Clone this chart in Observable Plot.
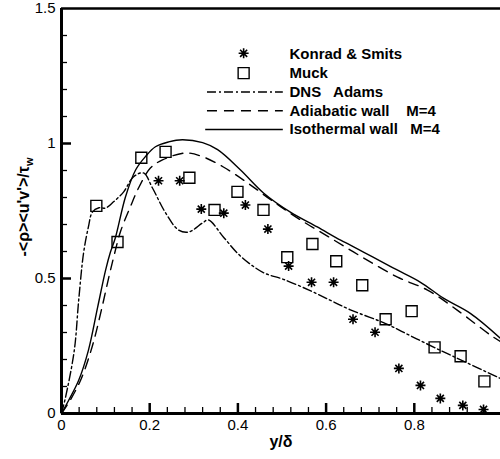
<!DOCTYPE html>
<html>
<head>
<meta charset="utf-8">
<script src="https://cdn.jsdelivr.net/npm/d3@7"></script>
<script src="https://cdn.jsdelivr.net/npm/@observablehq/plot@0.6"></script>
<style>
html, body { margin: 0; padding: 0; background: #fff; overflow: hidden; }
#chart svg text { white-space: pre; }
</style>
</head>
<body>
<div id="chart"></div>
<script>
// ---- data ----
const ksX = [0.220, 0.268, 0.317, 0.368, 0.417, 0.468, 0.515, 0.567, 0.617, 0.661, 0.711, 0.765, 0.814, 0.859, 0.910, 0.957];
const ksY = [0.862, 0.862, 0.757, 0.742, 0.772, 0.683, 0.546, 0.486, 0.486, 0.349, 0.301, 0.167, 0.104, 0.056, 0.030, 0.015];

const muckX = [0.079, 0.127, 0.181, 0.236, 0.290, 0.347, 0.399, 0.458, 0.512, 0.569, 0.623, 0.682, 0.735, 0.794, 0.846, 0.905, 0.959];
const muckY = [0.769, 0.635, 0.947, 0.969, 0.873, 0.754, 0.821, 0.754, 0.579, 0.628, 0.564, 0.475, 0.349, 0.379, 0.245, 0.212, 0.119];

const dnsX = [0, 0.009, 0.029, 0.039, 0.050, 0.061, 0.070, 0.085, 0.100, 0.118, 0.141, 0.163, 0.186, 0.206, 0.236, 0.265, 0.288, 0.320, 0.333, 0.367, 0.399, 0.429, 0.460, 0.503, 0.560, 0.610, 0.655, 0.735, 0.790, 0.846, 0.910, 0.995];
const dnsY = [0, 0.059, 0.234, 0.420, 0.594, 0.691, 0.746, 0.762, 0.761, 0.784, 0.821, 0.876, 0.891, 0.836, 0.743, 0.680, 0.672, 0.706, 0.717, 0.654, 0.594, 0.552, 0.520, 0.497, 0.458, 0.419, 0.384, 0.333, 0.289, 0.244, 0.195, 0.130];

const adiX = [0, 0.020, 0.045, 0.070, 0.090, 0.108, 0.120, 0.134, 0.156, 0.175, 0.202, 0.229, 0.281, 0.320, 0.367, 0.422, 0.481, 0.542, 0.610, 0.685, 0.762, 0.830, 0.898, 0.973, 0.995];
const adiY = [0, 0.050, 0.130, 0.250, 0.380, 0.510, 0.590, 0.675, 0.765, 0.836, 0.910, 0.939, 0.965, 0.951, 0.913, 0.854, 0.784, 0.717, 0.650, 0.576, 0.505, 0.457, 0.382, 0.290, 0.267];

const isoX = [0, 0.016, 0.039, 0.061, 0.082, 0.100, 0.111, 0.122, 0.145, 0.168, 0.190, 0.213, 0.243, 0.274, 0.320, 0.354, 0.406, 0.458, 0.519, 0.580, 0.633, 0.655, 0.753, 0.814, 0.866, 0.927, 0.995];
const isoY = [0, 0.048, 0.123, 0.234, 0.394, 0.531, 0.598, 0.650, 0.802, 0.902, 0.951, 0.988, 1.006, 1.014, 1.003, 0.977, 0.902, 0.817, 0.746, 0.691, 0.642, 0.624, 0.538, 0.486, 0.427, 0.371, 0.279];

// ---- ticks ----
const xTickValues = [0, 0.2, 0.4, 0.6, 0.8];
const xTickLabels = ["0", "0.2", "0.4", "0.6", "0.8"];
const xMinorTicks = [0.04, 0.08, 0.12, 0.16, 0.24, 0.28, 0.32, 0.36, 0.44, 0.48, 0.52, 0.56, 0.64, 0.68, 0.72, 0.76, 0.84, 0.88, 0.92, 0.96];
const xMajorTicks = [0.2, 0.4, 0.6, 0.8];
const yTickValues = [0, 0.5, 1, 1.5];
const yTickLabels = ["0", "0.5", "1", "1.5"];
const yMinorTicks = [0.1, 0.2, 0.3, 0.4, 0.6, 0.7, 0.8, 0.9, 1.1, 1.2, 1.3, 1.4];
const yMajorTicks = [0.5, 1];

// ---- legend ----
const legendLabels = ["Konrad & Smits", "Muck", "DNS   Adams", "Adiabatic wall    M=4", "Isothermal wall   M=4"];
const legendTop = 1.330, legendStep = 0.0695;
const legendTextX = 0.517, legendSymX = 0.413, legendLineX1 = 0.331, legendLineX2 = 0.503;

const xLabel = "y/δ";
const yLabelMain = "-<ρ><u'v'>/τ";
const yLabelSub = "w";

// ---- build ----
const zip = (xs, ys) => xs.map((x, i) => ({x, y: ys[i]}));
const ks = zip(ksX, ksY), muck = zip(muckX, muckY), dns = zip(dnsX, dnsY), adi = zip(adiX, adiY), iso = zip(isoX, isoY);

const asterisk8 = {
  draw(context, size) {
    const r = Math.sqrt(size / Math.PI);
    for (let k = 0; k < 4; k++) {
      const a = k * Math.PI / 4;
      const c = Math.cos(a) * r, s = Math.sin(a) * r;
      context.moveTo(-c, -s);
      context.lineTo(c, s);
    }
  }
};

const font = "'Liberation Sans', Arial, Helvetica, sans-serif";
const dnsDash = "9,3,2,3";
const adiDash = "10,7";
const lw = 1.4;
const rowY = i => legendTop - i * legendStep;

const plot = Plot.plot({
  width: 500,
  height: 459,
  marginLeft: 61,
  marginRight: 0,
  marginTop: 8,
  marginBottom: 46,
  x: {domain: [0, 1], range: [61, 502], axis: null},
  y: {domain: [0, 1.5], range: [413, 8], axis: null},
  style: {fontFamily: font, fontSize: "15px", background: "white", color: "black"},
  marks: [
    // curves
    Plot.line(dns, {x: "x", y: "y", curve: "catmull-rom", stroke: "black", strokeWidth: lw, strokeDasharray: dnsDash}),
    Plot.line(adi, {x: "x", y: "y", curve: "catmull-rom", stroke: "black", strokeWidth: lw, strokeDasharray: adiDash}),
    Plot.line(iso, {x: "x", y: "y", curve: "catmull-rom", stroke: "black", strokeWidth: lw}),
    // points
    Plot.dot(muck, {x: "x", y: "y", symbol: "square", r: 6.2, stroke: "black", fill: "none", strokeWidth: 1.4}),
    Plot.dot(ks, {x: "x", y: "y", symbol: asterisk8, r: 5, stroke: "black", strokeWidth: 1.6}),
    // frame lines
    Plot.ruleY([0], {x1: 0, x2: 1, stroke: "black", strokeWidth: 3}),
    Plot.ruleX([0], {y1: 0, y2: 1.5, stroke: "black", strokeWidth: 3}),
    Plot.ruleY([1.5], {x1: 0, x2: 1, stroke: "black", strokeWidth: 2.5}),
    // x ticks (inward)
    Plot.ruleX(xMinorTicks, {x: d => d, y1: 0, y2: 0, insetBottom: 6, stroke: "black", strokeWidth: 1.3}),
    Plot.ruleX(xMajorTicks, {x: d => d, y1: 0, y2: 0, insetBottom: 10, stroke: "black", strokeWidth: 2.5}),
    // y ticks (inward)
    Plot.ruleY(yMinorTicks, {y: d => d, x1: 0, x2: 0, insetLeft: 6, stroke: "black", strokeWidth: 1.3}),
    Plot.ruleY(yMajorTicks, {y: d => d, x1: 0, x2: 0, insetLeft: 10, stroke: "black", strokeWidth: 2.5}),
    // tick labels
    Plot.text(xTickValues, {x: d => d, y: 0, text: (d, i) => xTickLabels[i], lineAnchor: "top", dy: 6, fontSize: 15, fill: "black"}),
    Plot.text(yTickValues, {x: 0, y: d => d, text: (d, i) => yTickLabels[i], textAnchor: "end", dx: -6, lineAnchor: "middle", fontSize: 15, fill: "black"}),
    // legend
    Plot.text(legendLabels, {x: legendTextX, y: (d, i) => rowY(i), text: d => d, textAnchor: "start", lineAnchor: "middle", fontWeight: "bold", fontSize: 15, fill: "black"}),
    Plot.dot([legendLabels[0]], {x: legendSymX, y: rowY(0) + 0.004, symbol: asterisk8, r: 5, stroke: "black", strokeWidth: 1.6}),
    Plot.dot([legendLabels[1]], {x: legendSymX, y: rowY(1), symbol: "square", r: 6.2, stroke: "black", fill: "none", strokeWidth: 1.4}),
    Plot.ruleY([rowY(2)], {x1: legendLineX1, x2: legendLineX2, stroke: "black", strokeWidth: lw, strokeDasharray: dnsDash}),
    Plot.ruleY([rowY(3)], {x1: legendLineX1, x2: legendLineX2, stroke: "black", strokeWidth: lw, strokeDasharray: adiDash}),
    Plot.ruleY([rowY(4)], {x1: legendLineX1 - 0.004, x2: legendLineX2, stroke: "black", strokeWidth: lw})
  ]
});

const svg = d3.select(plot);
// x axis title
svg.append("text")
  .attr("x", 281).attr("y", 447)
  .attr("text-anchor", "middle")
  .attr("font-family", font).attr("font-weight", "bold").attr("font-size", 16)
  .attr("fill", "black")
  .text(xLabel);
// y axis title with subscript
const yl = svg.append("text")
  .attr("transform", "translate(29,207) rotate(-90)")
  .attr("text-anchor", "middle")
  .attr("font-family", font).attr("font-weight", "bold").attr("font-size", 16)
  .attr("fill", "black");
yl.append("tspan").text(yLabelMain);
yl.append("tspan").attr("font-size", 11).attr("dy", 4).text(yLabelSub);

document.getElementById("chart").appendChild(plot);
</script>
</body>
</html>
